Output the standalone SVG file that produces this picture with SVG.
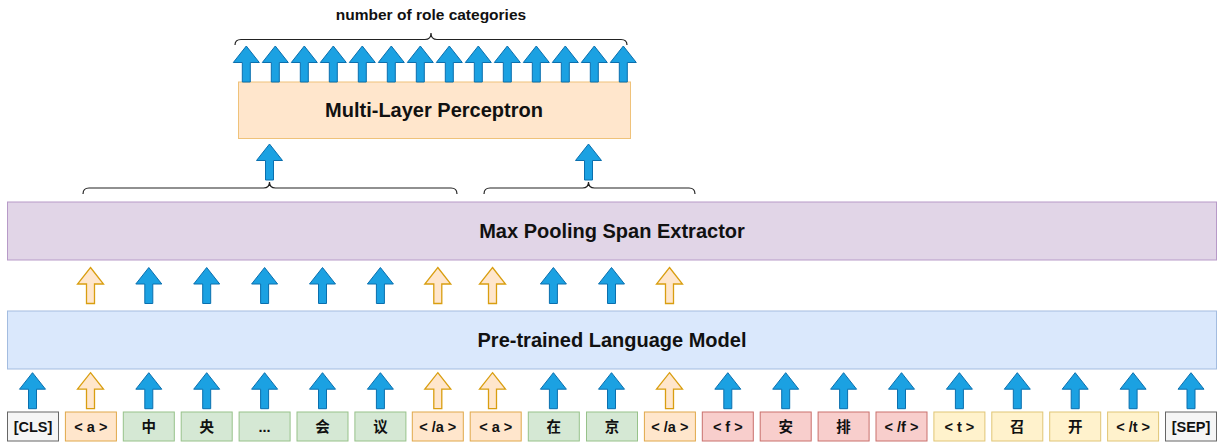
<svg xmlns="http://www.w3.org/2000/svg" xmlns:xlink="http://www.w3.org/1999/xlink" width="1218" height="444" viewBox="0 0 1218 444">
<style>
  .big { font-family: "Liberation Sans", Arial, sans-serif; font-weight: bold; font-size: 20px; fill: #111; text-anchor: middle; }
  .lbl { font-family: "Liberation Sans", Arial, sans-serif; font-weight: bold; font-size: 15.5px; fill: #111; text-anchor: middle; }
  .tk { font-family: "Liberation Sans", Arial, "Noto Sans CJK SC", sans-serif; font-weight: bold; font-size: 14.5px; fill: #111; text-anchor: middle; }
  .gray { fill: #f5f5f5; stroke: #666666; }
  .org { fill: #ffe6cc; stroke: #e0a84a; }
  .grn { fill: #d5e8d4; stroke: #97c28a; }
  .red { fill: #f8cecc; stroke: #c9706c; }
  .yel { fill: #fff2cc; stroke: #e0c576; }
  .ab { fill: #1ba1e2; stroke: #0a6fae; stroke-width: 1; }
  .ao { fill: #ffe6cc; stroke: #d99e10; stroke-width: 1.3; }
  .brace { fill: none; stroke: #222; stroke-width: 1.2; }
</style>
<defs>
  <path id="arr" d="M0,0 L13,16.5 L4,16.5 L4,36 L-4,36 L-4,16.5 L-13,16.5 Z"/>
</defs>

<g id="title">
  <text class="lbl" x="431" y="20">number of role categories</text>
</g>

<g id="mlp">
  <rect x="238.5" y="82" width="392" height="56.5" fill="#ffe6cc" stroke="#efc27a"/>
  <text class="big" x="434" y="117">Multi-Layer Perceptron</text>
</g>

<g id="span-extractor">
  <rect x="7.5" y="202" width="1209" height="58" fill="#e1d5e7" stroke="#b79ac8"/>
  <text class="big" x="612" y="238">Max Pooling Span Extractor</text>
</g>

<g id="plm">
  <rect x="7.5" y="311" width="1209" height="58" fill="#dae8fc" stroke="#a3bce0"/>
  <text class="big" x="612" y="347">Pre-trained Language Model</text>
</g>

<g id="tokens">
  <g id="t0"><rect class="gray" x="7.5" y="412" width="51" height="29"/><text class="tk" x="33" y="431.5">[CLS]</text></g>
  <g id="t1"><rect class="org" x="65.4" y="412" width="51" height="29"/><text class="tk" x="90.9" y="431.5">&lt; a &gt;</text></g>
  <g id="t2"><rect class="grn" x="123.3" y="412" width="51" height="29"/><text class="tk" x="148.8" y="431.5">中</text></g>
  <g id="t3"><rect class="grn" x="181.2" y="412" width="51" height="29"/><text class="tk" x="206.7" y="431.5">央</text></g>
  <g id="t4"><rect class="grn" x="239.1" y="412" width="51" height="29"/><text class="tk" x="264.6" y="431.5">...</text></g>
  <g id="t5"><rect class="grn" x="297" y="412" width="51" height="29"/><text class="tk" x="322.5" y="431.5">会</text></g>
  <g id="t6"><rect class="grn" x="354.9" y="412" width="51" height="29"/><text class="tk" x="380.4" y="431.5">议</text></g>
  <g id="t7"><rect class="org" x="412.3" y="412" width="51" height="29"/><text class="tk" x="437.8" y="431.5">&lt; /a &gt;</text></g>
  <g id="t8"><rect class="org" x="470.2" y="412" width="51" height="29"/><text class="tk" x="495.7" y="431.5">&lt; a &gt;</text></g>
  <g id="t9"><rect class="grn" x="528.3" y="412" width="51" height="29"/><text class="tk" x="553.8" y="431.5">在</text></g>
  <g id="t10"><rect class="grn" x="586.5" y="412" width="51" height="29"/><text class="tk" x="612" y="431.5">京</text></g>
  <g id="t11"><rect class="org" x="644.4" y="412" width="51" height="29"/><text class="tk" x="669.9" y="431.5">&lt; /a &gt;</text></g>
  <g id="t12"><rect class="red" x="702.3" y="412" width="51" height="29"/><text class="tk" x="727.8" y="431.5">&lt; f &gt;</text></g>
  <g id="t13"><rect class="red" x="760.2" y="412" width="51" height="29"/><text class="tk" x="785.7" y="431.5">安</text></g>
  <g id="t14"><rect class="red" x="818.1" y="412" width="51" height="29"/><text class="tk" x="843.6" y="431.5">排</text></g>
  <g id="t15"><rect class="red" x="876" y="412" width="51" height="29"/><text class="tk" x="901.5" y="431.5">&lt; /f &gt;</text></g>
  <g id="t16"><rect class="yel" x="933.9" y="412" width="51" height="29"/><text class="tk" x="959.4" y="431.5">&lt; t &gt;</text></g>
  <g id="t17"><rect class="yel" x="991.8" y="412" width="51" height="29"/><text class="tk" x="1017.3" y="431.5">召</text></g>
  <g id="t18"><rect class="yel" x="1049.7" y="412" width="51" height="29"/><text class="tk" x="1075.2" y="431.5">开</text></g>
  <g id="t19"><rect class="yel" x="1107.6" y="412" width="51" height="29"/><text class="tk" x="1133.1" y="431.5">&lt; /t &gt;</text></g>
  <g id="t20"><rect class="gray" x="1165.5" y="412" width="51" height="29"/><text class="tk" x="1191" y="431.5">[SEP]</text></g>
</g>

<g id="connectors">
  <!-- braces -->
  <path class="brace" d="M235,45 Q235,39.5 241,39.5 L425,39.5 Q431,39.5 431,33 Q431,39.5 437,39.5 L621,39.5 Q627,39.5 627,45"/>
  <path class="brace" d="M83,194 Q83,188 89,188 L263.5,188 Q269.5,188 269.5,182 Q269.5,188 275.5,188 L451,188 Q457,188 457,194"/>
  <path class="brace" d="M484,194 Q484,188 490,188 L582.5,188 Q588.5,188 588.5,182 Q588.5,188 594.5,188 L689,188 Q695,188 695,194"/>

  <!-- top output arrows -->
  <use xlink:href="#arr" class="ab" transform="translate(246.3,46)"/>
  <use xlink:href="#arr" class="ab" transform="translate(275.3,46)"/>
  <use xlink:href="#arr" class="ab" transform="translate(304.3,46)"/>
  <use xlink:href="#arr" class="ab" transform="translate(333.3,46)"/>
  <use xlink:href="#arr" class="ab" transform="translate(362.3,46)"/>
  <use xlink:href="#arr" class="ab" transform="translate(391.3,46)"/>
  <use xlink:href="#arr" class="ab" transform="translate(420.3,46)"/>
  <use xlink:href="#arr" class="ab" transform="translate(449.3,46)"/>
  <use xlink:href="#arr" class="ab" transform="translate(478.3,46)"/>
  <use xlink:href="#arr" class="ab" transform="translate(507.3,46)"/>
  <use xlink:href="#arr" class="ab" transform="translate(536.3,46)"/>
  <use xlink:href="#arr" class="ab" transform="translate(565.3,46)"/>
  <use xlink:href="#arr" class="ab" transform="translate(594.3,46)"/>
  <use xlink:href="#arr" class="ab" transform="translate(623.3,46)"/>

  <!-- span arrows into MLP -->
  <use xlink:href="#arr" class="ab" transform="translate(269.5,144)"/>
  <use xlink:href="#arr" class="ab" transform="translate(588.5,144)"/>

  <!-- PLM to span extractor arrows -->
  <use xlink:href="#arr" class="ao" transform="translate(90.5,267.5)"/>
  <use xlink:href="#arr" class="ab" transform="translate(148.8,267.5)"/>
  <use xlink:href="#arr" class="ab" transform="translate(206.7,267.5)"/>
  <use xlink:href="#arr" class="ab" transform="translate(264.6,267.5)"/>
  <use xlink:href="#arr" class="ab" transform="translate(322.5,267.5)"/>
  <use xlink:href="#arr" class="ab" transform="translate(380.4,267.5)"/>
  <use xlink:href="#arr" class="ao" transform="translate(437.8,267.5)"/>
  <use xlink:href="#arr" class="ao" transform="translate(492.5,267.5)"/>
  <use xlink:href="#arr" class="ab" transform="translate(553.4,267.5)"/>
  <use xlink:href="#arr" class="ab" transform="translate(611.5,267.5)"/>
  <use xlink:href="#arr" class="ao" transform="translate(669.5,267.5)"/>

  <!-- token to PLM arrows -->
  <use xlink:href="#arr" class="ab" transform="translate(32.5,372.7)"/>
  <use xlink:href="#arr" class="ao" transform="translate(90.5,372.7)"/>
  <use xlink:href="#arr" class="ab" transform="translate(148.8,372.7)"/>
  <use xlink:href="#arr" class="ab" transform="translate(206.7,372.7)"/>
  <use xlink:href="#arr" class="ab" transform="translate(264.6,372.7)"/>
  <use xlink:href="#arr" class="ab" transform="translate(322.5,372.7)"/>
  <use xlink:href="#arr" class="ab" transform="translate(380.4,372.7)"/>
  <use xlink:href="#arr" class="ao" transform="translate(437.8,372.7)"/>
  <use xlink:href="#arr" class="ao" transform="translate(492.5,372.7)"/>
  <use xlink:href="#arr" class="ab" transform="translate(553.4,372.7)"/>
  <use xlink:href="#arr" class="ab" transform="translate(611.5,372.7)"/>
  <use xlink:href="#arr" class="ao" transform="translate(669.5,372.7)"/>
  <use xlink:href="#arr" class="ab" transform="translate(727.8,372.7)"/>
  <use xlink:href="#arr" class="ab" transform="translate(785.7,372.7)"/>
  <use xlink:href="#arr" class="ab" transform="translate(843.6,372.7)"/>
  <use xlink:href="#arr" class="ab" transform="translate(901.5,372.7)"/>
  <use xlink:href="#arr" class="ab" transform="translate(959.4,372.7)"/>
  <use xlink:href="#arr" class="ab" transform="translate(1017.3,372.7)"/>
  <use xlink:href="#arr" class="ab" transform="translate(1075.2,372.7)"/>
  <use xlink:href="#arr" class="ab" transform="translate(1133.1,372.7)"/>
  <use xlink:href="#arr" class="ab" transform="translate(1191,372.7)"/>
</g>
</svg>
